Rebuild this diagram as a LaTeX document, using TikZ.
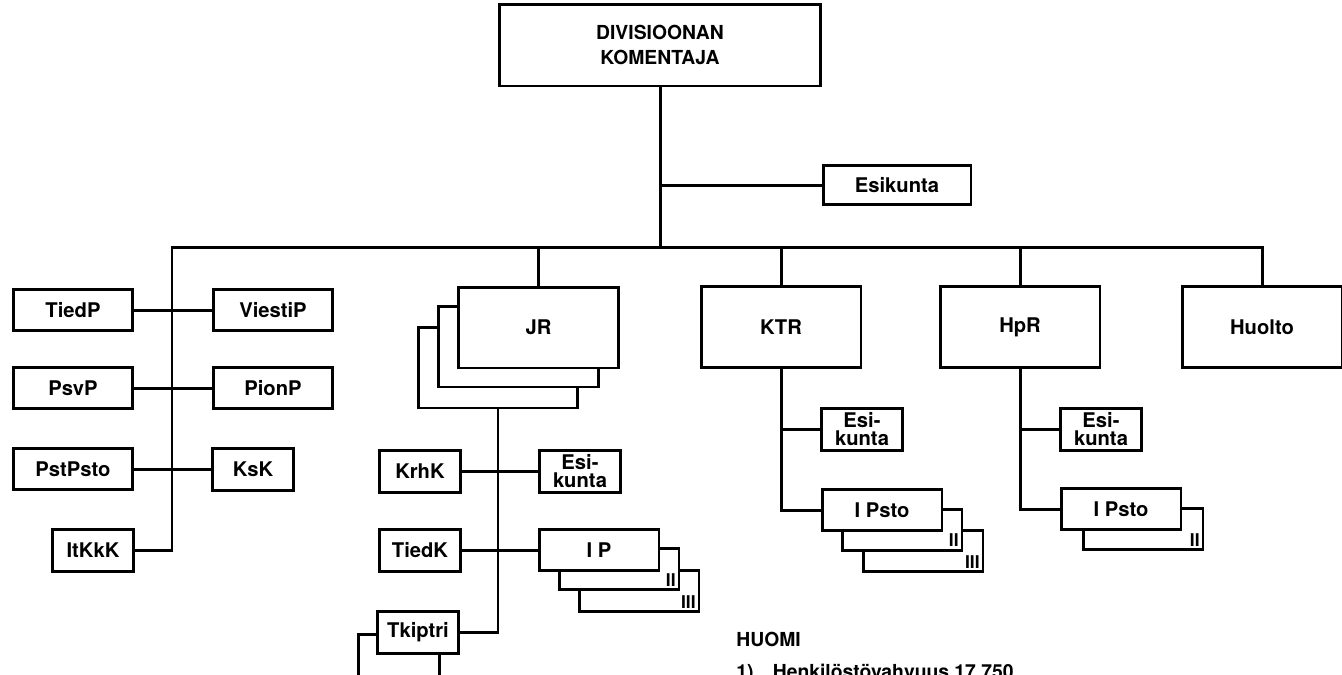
\documentclass[tikz,border=0pt]{standalone}
\usepackage{fontspec}
\setmainfont{TeX Gyre Heros}

\tikzset{
  laatikko/.style={draw, fill=white, line width=1.7pt, inner sep=0pt,
    align=center, font=\bfseries\fontsize{11.5}{10.5}\selectfont},
  iso/.style={laatikko, minimum width=3.2cm, minimum height=1.62cm},
  pieni/.style={laatikko, minimum width=2.4cm, minimum height=0.82cm},
  kapea/.style={laatikko, minimum width=1.62cm, minimum height=0.84cm},
  numero/.style={anchor=south east, inner sep=2.5pt, font=\bfseries\fontsize{10}{10}\selectfont},
  viiva/.style={line width=1.7pt}
}

\begin{document}
\begin{tikzpicture}[x=0.02cm, y=-0.02cm]
  \useasboundingbox (0,0) rectangle (1342,674);

  % Ylin johto
  \node[laatikko, minimum width=6.42cm, minimum height=1.64cm, font=\bfseries\fontsize{11}{12}\selectfont] (komentaja) at (660,45) {DIVISIOONAN\\[2pt]KOMENTAJA};
  \node[laatikko, minimum width=2.96cm, minimum height=0.78cm] (esikunta) at (897,185) {Esikunta};
  \coordinate (vayla) at (660,247);
  \coordinate (vasen) at (172,247);

  % Rykmentit
  \node[iso] (jr3) at (498,367.5) {};
  \node[iso] (jr2) at (518.5,346.5) {};
  \node[iso] (jr) at (538.5,327.5) {JR};
  \node[iso] (ktr) at (781,327) {KTR};
  \node[iso] (hpr) at (1020,327) {HpR};
  \node[iso] (huolto) at (1262,327) {Huolto};

  % Divisioonan joukot
  \node[pieni] (tiedp) at (73,310) {TiedP};
  \node[pieni] (viestip) at (273,310) {ViestiP};
  \node[pieni] (psvp) at (73,388) {PsvP};
  \node[pieni] (pionp) at (273,388) {PionP};
  \node[pieni] (pstpsto) at (73,469) {PstPsto};
  \node[kapea] (ksk) at (253,469) {KsK};
  \node[kapea] (itkkk) at (93,550) {ItKkK};

  % JR:n osat
  \node[kapea] (krhk) at (420,471) {KrhK};
  \node[kapea] (jresi) at (580,471) {Esi-\\kunta};
  \node[kapea] (tiedk) at (420,550) {TiedK};
  \node[pieni] (ip3) at (639,591) {};
  \node[pieni] (ip2) at (619,569) {};
  \node[pieni] (ip) at (599,550) {I P};
  \node[numero] at (ip2.south east) {II};
  \node[numero] at (ip3.south east) {III};
  \node[kapea] (tkiptri2) at (399,655) {};
  \node[kapea] (tkiptri) at (418,632) {Tkiptri};

  % KTR:n osat
  \node[kapea] (ktresi) at (862,429) {Esi-\\kunta};
  \node[pieni] (ktrpsto3) at (923,551) {};
  \node[pieni] (ktrpsto2) at (902,529.5) {};
  \node[pieni] (ktrpsto) at (882,510) {I Psto};
  \node[numero] at (ktrpsto2.south east) {II};
  \node[numero] at (ktrpsto3.south east) {III};

  % HpR:n osat
  \node[kapea] (hpresi) at (1101,429) {Esi-\\kunta};
  \node[pieni] (hprpsto2) at (1143,529) {};
  \node[pieni] (hprpsto) at (1121,509) {I Psto};
  \node[numero] at (hprpsto2.south east) {II};

  % Yhteydet
  \draw[viiva] (komentaja) -- (vayla);
  \draw[viiva] (komentaja.south |- esikunta) -- (esikunta);
  \draw[viiva] (itkkk) -| (vasen) -| (huolto);
  \draw[viiva] (jr) -- (jr.north |- vayla);
  \draw[viiva] (ktr) -- (ktr.north |- vayla);
  \draw[viiva] (hpr) -- (hpr.north |- vayla);
  \draw[viiva] (tiedp) -- (viestip);
  \draw[viiva] (psvp) -- (pionp);
  \draw[viiva] (pstpsto) -- (ksk);

  \draw[viiva] (jr3.south) |- (tkiptri);
  \draw[viiva] (krhk) -- (jresi);
  \draw[viiva] (tiedk) -- (ip);

  \draw[viiva] (ktr.south) |- (ktrpsto);
  \draw[viiva] (ktr.south |- ktresi) -- (ktresi);
  \draw[viiva] (hpr.south) |- (hprpsto);
  \draw[viiva] (hpr.south |- hpresi) -- (hpresi);

  % Huomautus
  \node[anchor=north west, align=left, inner sep=0pt, font=\bfseries\fontsize{11}{18}\selectfont] (huomi) at (736,632)
    {HUOMI\\1)\quad Henkilöstövahvuus 17 750};
\end{tikzpicture}
\end{document}
